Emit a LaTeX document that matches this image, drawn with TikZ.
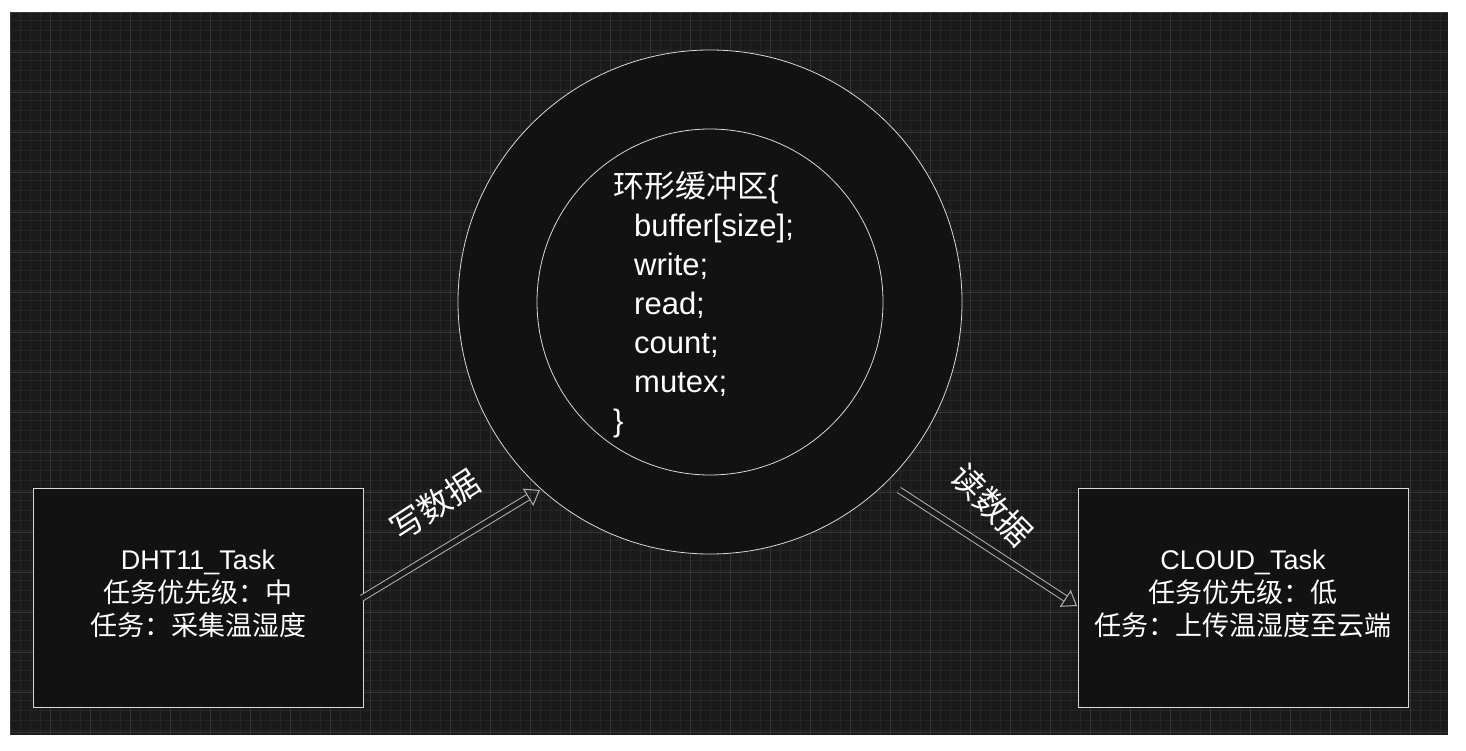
\documentclass[tikz,border=0pt]{standalone}
\usepackage{fontspec}
\setmainfont{Liberation Sans}
\newfontfamily\cjk{Noto Sans CJK SC}
\usetikzlibrary{arrows.meta}
\definecolor{bg}{HTML}{1A1A1A}
\definecolor{boxbg}{HTML}{121212}
\definecolor{gminor}{HTML}{262626}
\definecolor{gmajor}{HTML}{363636}
\tikzset{
  taskbox/.style={draw=white!85!black, line width=1pt, fill=boxbg, minimum width=330pt, minimum height=219pt, text=white, align=center, font=\fontsize{27}{33}\selectfont, inner sep=0pt},
  ring/.style={draw=white!85!black, line width=0.8pt, circle, inner sep=0pt, fill=boxbg},
  blockarrow/.style={draw=white!70!black, double=bg, double distance=5pt, line width=1pt, -{Triangle[open, length=14pt, width=20pt]}},
  lbl/.style={text=white, font=\cjk\fontsize{33}{33}\selectfont, inner sep=0pt}
}
\begin{document}
\begin{tikzpicture}[x=1pt,y=-1pt]
\useasboundingbox (0,0) rectangle (1466,751);
\fill[white] (0,0) rectangle (1466,751);
\fill[bg] (10,12) rectangle (1448,735);
\draw[gminor, line width=0.5pt, step=10pt] (10,12) grid (1448,735);
\begin{scope}[shift={(10,12)}]
\draw[gmajor, line width=0.7pt, step=40pt] (0,0) grid (1438,723);
\end{scope}
\node[ring, minimum size=504pt] (outer) at (710,302) {};
\node[ring, minimum size=346pt] (inner) at (710,302) {};
\node[text=white, align=left, anchor=north west, font=\fontsize{31}{39}\selectfont, inner sep=0pt] (code) at (613,171)
 {{\cjk 环形缓冲区}\{\\
  \hspace*{21pt}buffer[size];\\
  \hspace*{21pt}write;\\
  \hspace*{21pt}read;\\
  \hspace*{21pt}count;\\
  \hspace*{21pt}mutex;\\
  \}};
\node[taskbox] (dht) at (198,597.5) {\raisebox{0pt}[0pt][0pt]{}\\[-21pt]DHT11\_Task\\{\cjk 任务优先级：中}\\{\cjk 任务：采集温湿度}};
\node[taskbox] (cloud) at (1243,597.5) {\raisebox{0pt}[0pt][0pt]{}\\[-21pt]CLOUD\_Task\\{\cjk 任务优先级：低}\\{\cjk 任务：上传温湿度至云端}};
\coordinate (wstart) at (362,598);
\coordinate (wend) at (540,490);
\coordinate (rstart) at (899,490);
\coordinate (rend) at (1077,606);
\draw[blockarrow] (wstart) -- (wend);
\draw[blockarrow] (rstart) -- (rend);
\node[lbl, rotate=33] (wl) at (435,505) {写数据};
\node[lbl, rotate=-45] (rl) at (992,505) {读数据};
\end{tikzpicture}
\end{document}
